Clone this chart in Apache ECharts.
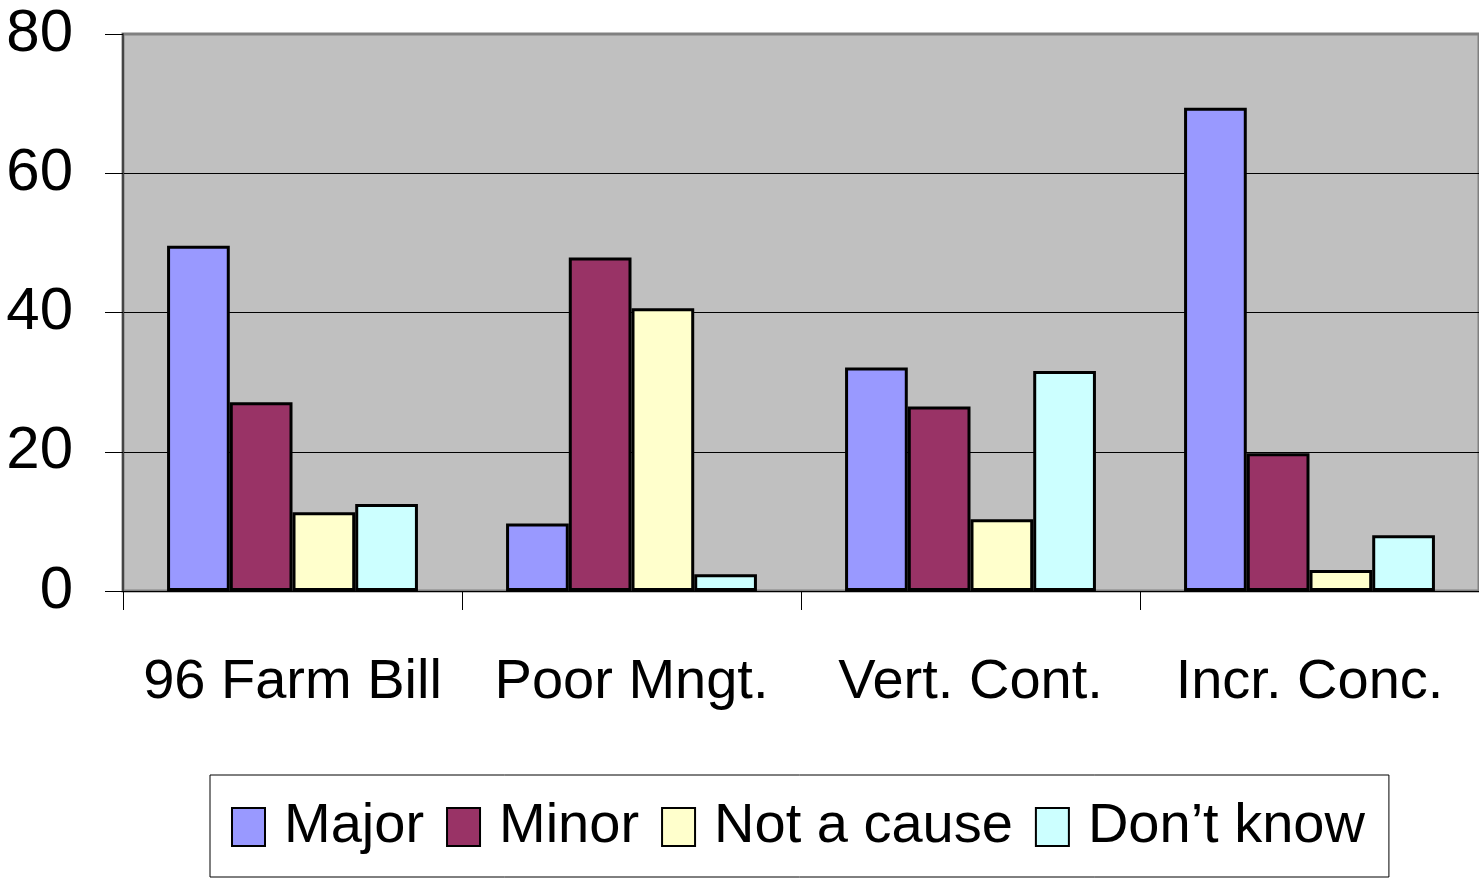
<!DOCTYPE html>
<html>
<head>
<meta charset="utf-8">
<script src="https://cdn.jsdelivr.net/npm/echarts@6/dist/echarts.min.js"></script>
<style>
  html, body { margin: 0; padding: 0; background: #fff; }
  #chart { width: 1479px; height: 878px; }
</style>
</head>
<body>
<div id="chart"></div>
<script>
const categories = ["96 Farm Bill", "Poor Mngt.", "Vert. Cont.", "Incr. Conc."];
const major = [49.6, 9.7, 32.1, 69.4];
const minor = [27.1, 47.9, 26.5, 19.8];
const notCause = [11.3, 40.6, 10.3, 3];
const dontKnow = [12.5, 2.4, 31.6, 8];
const yTicks = [0, 20, 40, 60, 80];

const font = "'Liberation Sans', Arial, sans-serif";

let chart = echarts.init(document.getElementById("chart"));

function bar(name, data, color) {
  return {
    name: name,
    type: "bar",
    data: data,
    barGap: "0%",
    barCategoryGap: "26%",
    itemStyle: { color: color, borderColor: "#000", borderWidth: 3 },
  };
}

let option = {
  backgroundColor: "#fff",
  animation: false,
  textStyle: { fontFamily: font },
  grid: {
    left: 123,
    right: -3,
    top: 34,
    bottom: 287,
    show: true,
    backgroundColor: "#c0c0c0",
    borderColor: "#808080",
    borderWidth: 3,
  },
  legend: {
    left: 210,
    top: 775,
    width: 1260,
    padding: [24, 24, 22, 21],
    itemWidth: 33,
    itemHeight: 38,
    itemGap: 22,
    icon: "rect",
    borderColor: "#000",
    borderWidth: 1,
    backgroundColor: "#fff",
    textStyle: {
      fontFamily: font,
      fontSize: 56,
      color: "#000",
      padding: [0, 0, 0, 14],
    },
  },
  xAxis: {
    type: "category",
    data: categories,
    axisLine: { lineStyle: { color: "#000", width: 1 } },
    axisTick: { show: true, interval: 0, length: 19, lineStyle: { color: "#000" } },
    axisLabel: { interval: 0, fontFamily: font, fontSize: 56, color: "#000", margin: 64 },
  },
  yAxis: {
    type: "value",
    min: yTicks[0],
    max: yTicks[yTicks.length - 1],
    interval: 20,
    axisLine: { show: true, lineStyle: { color: "#444", width: 2 } },
    axisTick: { show: true, length: 18, lineStyle: { color: "#000" } },
    splitLine: {
      show: true,
      lineStyle: { color: ["#000", "#000", "#000", "#000", "#808080"], width: 1 },
    },
    axisLabel: { fontFamily: font, fontSize: 60, color: "#000", margin: 50 },
  },
  series: [
    bar("Major", major, "#9999ff"),
    bar("Minor", minor, "#993366"),
    bar("Not a cause", notCause, "#ffffcc"),
    bar("Don’t know", dontKnow, "#ccffff"),
  ],
};

chart.setOption(option);
window.addEventListener("resize", () => {
  chart.resize();
});
</script>
</body>
</html>
